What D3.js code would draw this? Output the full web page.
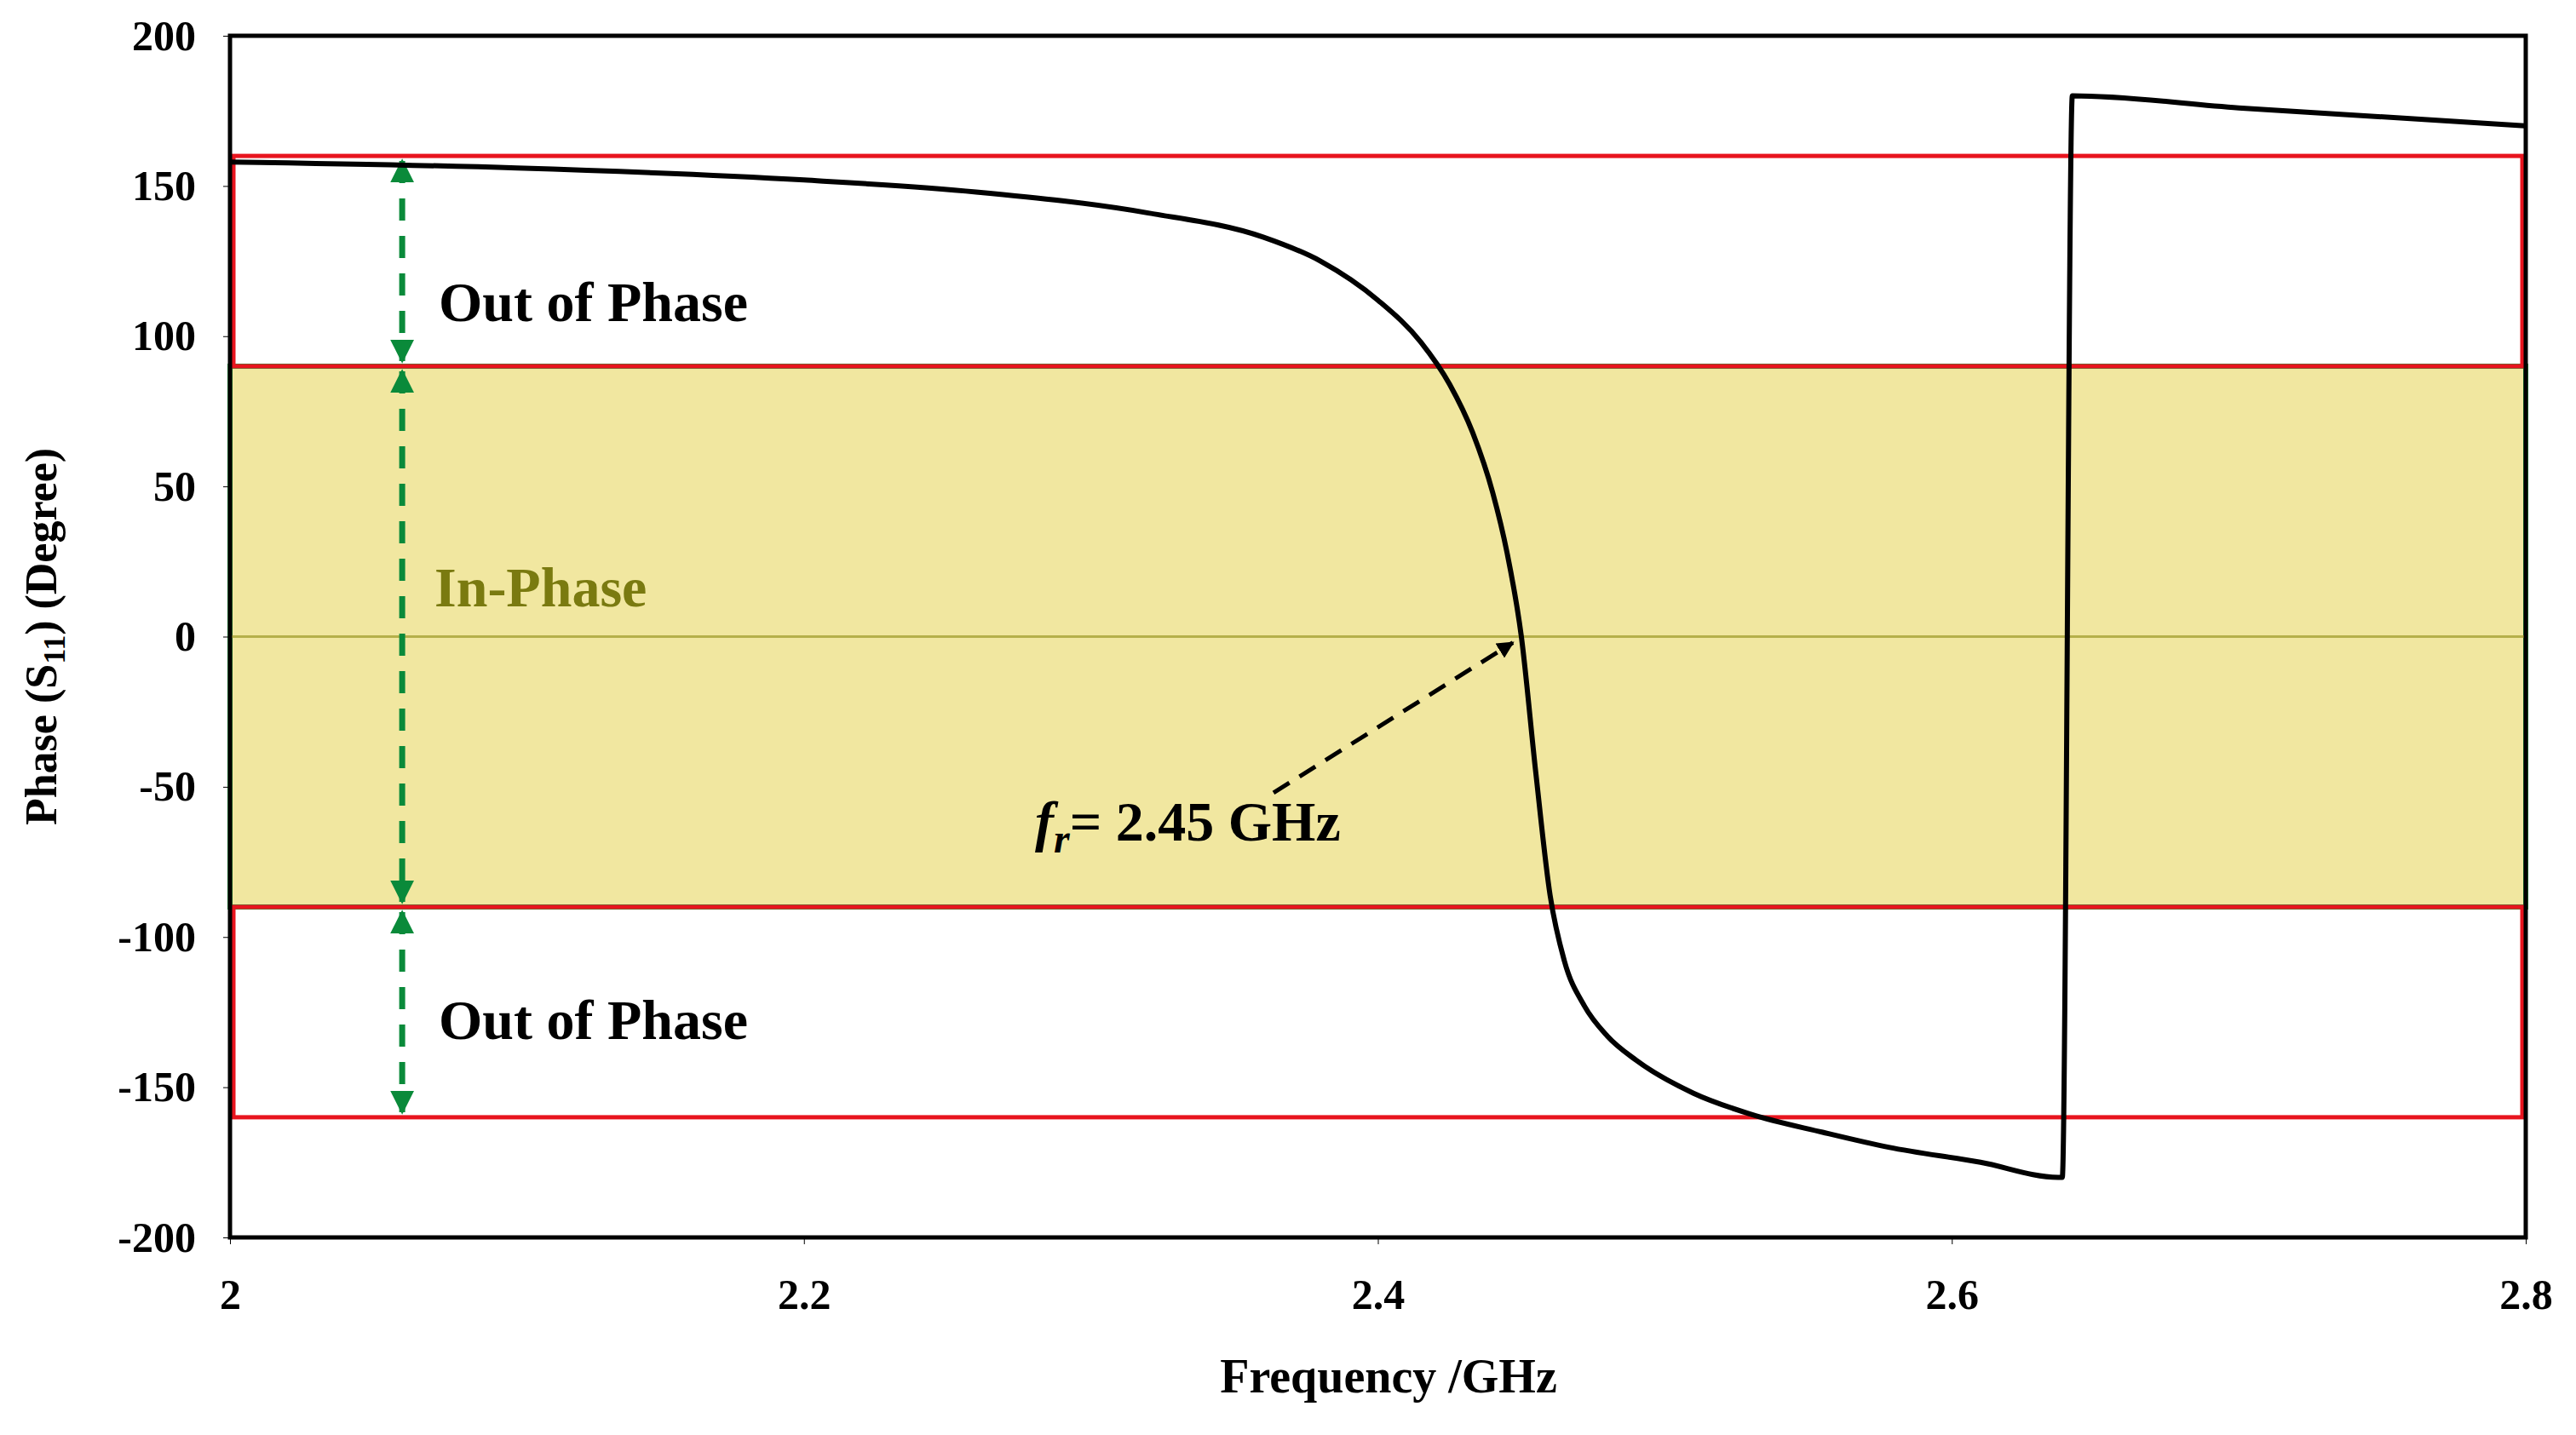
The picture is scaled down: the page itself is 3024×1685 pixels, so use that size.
<!DOCTYPE html><html><head><meta charset="utf-8"><script src="https://d3js.org/d3.v7.min.js"></script>
<style>body{margin:0;background:#fff}text{font-family:"Liberation Serif","Times New Roman",serif;font-weight:bold}</style></head><body>
<svg id="c" width="3024" height="1685"></svg>
<script>
const freq=[2.0,2.1,2.2,2.26,2.32,2.36,2.38,2.4,2.415,2.425,2.433,2.44,2.445,2.45,2.455,2.46,2.465,2.472,2.48,2.49,2.51,2.53,2.555,2.578,2.61,2.637,2.6385,2.642,2.7,2.8];
const phase=[158,156,152,148,141,133,125,112,98,84,68,48,28,0,-45,-86,-108,-123,-133,-141,-152,-159,-165,-170,-175,-180,-180,180,176,170];
const yTicks=[200,150,100,50,0,-50,-100,-150,-200];
const xTicks=[2,2.2,2.4,2.6,2.8];
const outBands=[[90,160],[-160,-90]];
const inBand=[-90,90];
const fr=2.45, arrowX=2.06;

const svg=d3.select("#c");
const L=270,T=42,R=2965,B=1453;
const x=d3.scaleLinear().domain([2,2.8]).range([L,R]);
const y=d3.scaleLinear().domain([-200,200]).range([B,T]);
const defs=svg.append("defs");
[["ga","#0a8a3a"],["ka","#000"]].forEach(([id,c])=>defs.append("marker").attr("id",id).attr("viewBox","0 0 10 10").attr("refX",9).attr("refY",5).attr("markerWidth",4).attr("markerHeight",4).attr("orient","auto-start-reverse").append("path").attr("d","M0,0L10,5L0,10z").attr("fill",c));

svg.append("rect").attr("x",L).attr("y",y(inBand[1])).attr("width",R-L).attr("height",y(inBand[0])-y(inBand[1])).attr("fill","#f1e7a0").attr("stroke","#1a9a3a").attr("stroke-width",6);
svg.append("line").attr("x1",L).attr("x2",R).attr("y1",y(0)).attr("y2",y(0)).attr("stroke","#b5b04a").attr("stroke-width",3);
outBands.forEach(b=>svg.append("rect").attr("x",L+4).attr("y",y(b[1])).attr("width",R-L-8).attr("height",y(b[0])-y(b[1])).attr("fill","none").attr("stroke","#e8141e").attr("stroke-width",5));

svg.append("rect").attr("x",L).attr("y",T).attr("width",R-L).attr("height",B-T).attr("fill","none").attr("stroke","#000").attr("stroke-width",5);
const ya=svg.append("g").attr("transform",`translate(${L},0)`).call(d3.axisLeft(y).tickValues(yTicks).tickSize(8).tickFormat(d=>d<0?"-"+Math.abs(d):d));
const xa=svg.append("g").attr("transform",`translate(0,${B})`).call(d3.axisBottom(x).tickValues(xTicks).tickSize(8).tickFormat(d=>d===2?"2":d3.format(".1f")(d)));
[ya,xa].forEach(g=>{g.select(".domain").remove();g.selectAll("text").style("font-size","50px").attr("fill","#000");});
ya.selectAll("text").attr("x",-40);
xa.selectAll("text").attr("dy","1.45em");

const ax=x(arrowX);
[[160,90],[90,-90],[-90,-160]].forEach(([a,b])=>svg.append("line").attr("x1",ax).attr("x2",ax).attr("y1",y(a)+6).attr("y2",y(b)-6).attr("stroke","#0a8a3a").attr("stroke-width",7).attr("stroke-dasharray","26,18").attr("marker-start","url(#ga)").attr("marker-end","url(#ga)"));

svg.append("path").datum(freq.map((f,i)=>[f,phase[i]])).attr("d",d3.line().x(d=>x(d[0])).y(d=>y(d[1])).curve(d3.curveMonotoneX)).attr("fill","none").attr("stroke","#000").attr("stroke-width",6);

svg.append("text").attr("x",515).attr("y",y(105)).text("Out of Phase").style("font-size","66px");
svg.append("text").attr("x",515).attr("y",y(-134)).text("Out of Phase").style("font-size","66px");
svg.append("text").attr("x",510).attr("y",y(10)).text("In-Phase").style("font-size","66px").attr("fill","#7a7a10");
const ft=svg.append("text").attr("x",1215).attr("y",y(-68)).style("font-size","66px");
ft.append("tspan").text("f").style("font-style","italic");
ft.append("tspan").text("r").style("font-style","italic").attr("dy",14).style("font-size","48px");
ft.append("tspan").text("= 2.45 GHz").attr("dy",-14);
svg.append("line").attr("x1",1495).attr("y1",y(-52)).attr("x2",x(fr)-10).attr("y2",y(-2)).attr("stroke","#000").attr("stroke-width",5).attr("stroke-dasharray","22,14").attr("marker-end","url(#ka)");

svg.append("text").attr("x",1630).attr("y",1635).attr("text-anchor","middle").style("font-size","56px").text("Frequency /GHz");
const yt=svg.append("text").attr("transform",`translate(66,${y(0)}) rotate(-90)`).attr("text-anchor","middle").style("font-size","52px");
yt.append("tspan").text("Phase (S");yt.append("tspan").text("11").attr("dy",10).style("font-size","36px");yt.append("tspan").text(") (Degree)").attr("dy",-10);
</script></body></html>
